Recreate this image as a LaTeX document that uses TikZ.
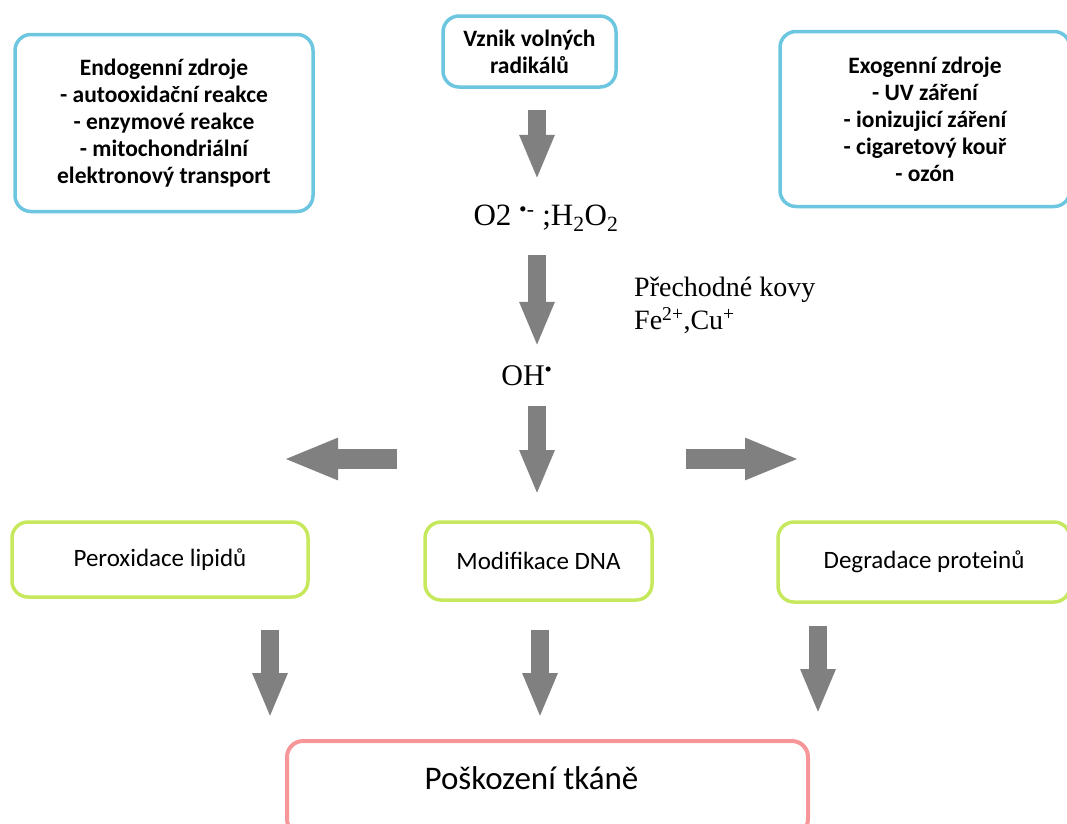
\documentclass[tikz,border=0pt]{standalone}
\usepackage{fontspec}
\setmainfont{Carlito}
\newfontfamily\chemfont{Liberation Serif}
\usetikzlibrary{arrows.meta}
\definecolor{SourceClr}{RGB}{108,198,224}
\definecolor{EffectClr}{RGB}{198,232,92}
\definecolor{DamageClr}{RGB}{246,150,152}
\definecolor{ArrowClr}{RGB}{128,128,128}

\begin{document}
\begin{tikzpicture}[x=1pt,y=-1pt,
  box/.style={draw,rounded corners=16pt,line width=3.5pt,align=center,inner sep=0pt,outer sep=0pt},
  srcbox/.style={box,draw=SourceClr,font=\bfseries\fontsize{23.5}{27}\selectfont},
  effbox/.style={box,draw=EffectClr,font=\fontsize{25}{30}\selectfont},
  chem/.style={inner sep=0pt,minimum height=40pt,font=\chemfont\fontsize{28}{33}\selectfont},
  fatarrow/.style={draw=ArrowClr,line width=18pt,-{Triangle[length=45pt,width=32pt]}},
  sidearrow/.style={draw=ArrowClr,line width=20pt,-{Triangle[length=55pt,width=38pt]}}]
\useasboundingbox (0,0) rectangle (1067,823);

% sources
\node[srcbox,minimum width=298pt,minimum height=177pt] (endo) at (164,123) {Endogenní zdroje\\- autooxidační reakce\\- enzymové reakce\\- mitochondriální\\elektronový transport};
\node[srcbox,minimum width=173pt,minimum height=71pt] (vznik) at (529.5,51.5) {Vznik volných\\radikálů};
\node[srcbox,minimum width=290pt,minimum height=175pt] (exo) at (925,119) {Exogenní zdroje\\- UV záření\\- ionizujicí záření\\- cigaretový kouř\\- ozón};

% radicals
\node[chem,font=\chemfont\fontsize{31}{36}\selectfont] (o2) at (546,218) {O2 \textsuperscript{•-} ;H\textsubscript{2}O\textsubscript{2}};
\node[chem,anchor=west,align=left] (kovy) at (634,305) {Přechodné kovy\\Fe\textsuperscript{2+},Cu\textsuperscript{+}};
\node[chem,font=\chemfont\fontsize{30}{36}\selectfont] (oh) at (527,376) {OH\textsuperscript{•}};

% effects
\node[effbox,minimum width=296pt,minimum height=75pt] (lipid) at (160,559.5) {Peroxidace lipidů};
\node[effbox,minimum width=227pt,minimum height=78pt] (dna) at (538.5,561) {Modifikace DNA};
\node[effbox,minimum width=292pt,minimum height=80pt] (prot) at (924,562) {Degradace proteinů};

\node[box,draw=DamageClr,line width=4pt,minimum width=521pt,minimum height=94pt] (tissue) at (547.5,788) {};
\node[font=\fontsize{33}{40}\selectfont,xshift=-16pt,yshift=10pt] (tissuetext) at (tissue.center) {Poškození tkáně};

\coordinate (colC) at (537,0);
\coordinate (colL) at (270,0);
\coordinate (colM) at (540,0);
\coordinate (colR) at (818,0);
\coordinate (fork) at (537,459);
\coordinate (forkL) at (283,459);
\coordinate (forkR) at (800,459);

\draw[fatarrow,shorten <=23pt,shorten >=18pt] (vznik.south -| colC) -- (o2.north -| colC);
\draw[fatarrow,shorten <=17pt,shorten >=9pt] (o2.south -| colC) -- (oh.north -| colC);
\draw[fatarrow,shorten <=10pt,shorten >=27pt] (oh.south -| colC) -- (dna.north -| colC);
\draw[sidearrow,shorten <=140pt] (fork) -- (forkL);
\draw[sidearrow,shorten <=149pt] (fork) -- (forkR);

\draw[fatarrow,shorten <=33pt,shorten >=23pt] (lipid.south -| colL) -- (tissue.north -| colL);
\draw[fatarrow,shorten <=30pt,shorten >=23pt] (dna.south -| colM) -- (tissue.north -| colM);
\draw[fatarrow,shorten <=24pt,shorten >=27pt] (prot.south -| colR) -- (tissue.north -| colR);

\end{tikzpicture}
\end{document}
